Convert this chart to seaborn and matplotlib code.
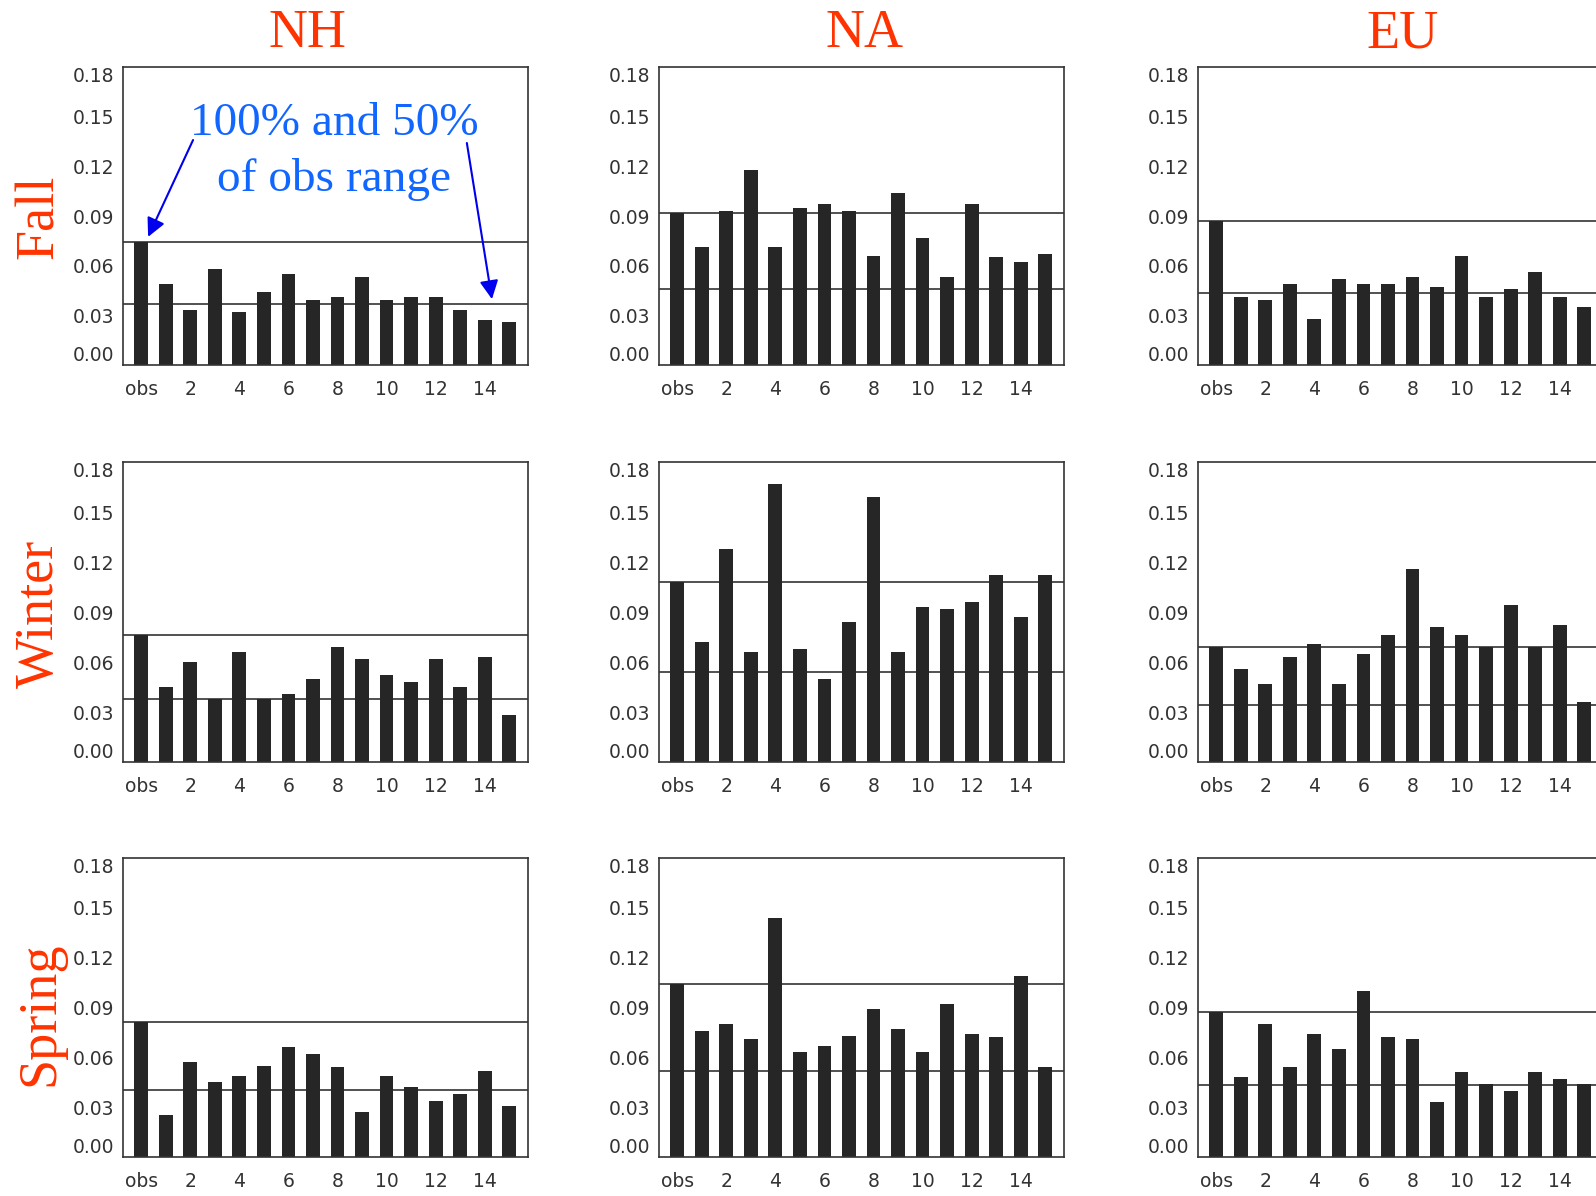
import pandas as pd
import seaborn as sns
import matplotlib.pyplot as plt

# bar labels: observations + 15 models
models = ['obs'] + [str(i) for i in range(1, 16)]
tick_pos = [0, 2, 4, 6, 8, 10, 12, 14]
tick_labels = ['obs', '2', '4', '6', '8', '10', '12', '14']
y_ticks = [0.00, 0.03, 0.06, 0.09, 0.12, 0.15, 0.18]

regions = ['NH', 'NA', 'EU']
seasons = ['Fall', 'Winter', 'Spring']

nh_fall = [0.074, 0.049, 0.033, 0.058, 0.032, 0.044, 0.055, 0.039,
           0.041, 0.053, 0.039, 0.041, 0.041, 0.033, 0.027, 0.026]
na_fall = [0.092, 0.071, 0.093, 0.118, 0.071, 0.095, 0.097, 0.093,
           0.066, 0.104, 0.077, 0.053, 0.097, 0.065, 0.062, 0.067]
eu_fall = [0.087, 0.041, 0.039, 0.049, 0.028, 0.052, 0.049, 0.049,
           0.053, 0.047, 0.066, 0.041, 0.046, 0.056, 0.041, 0.035]

nh_winter = [0.076, 0.045, 0.060, 0.038, 0.066, 0.038, 0.041, 0.050,
             0.069, 0.062, 0.052, 0.048, 0.062, 0.045, 0.063, 0.028]
na_winter = [0.108, 0.072, 0.128, 0.066, 0.167, 0.068, 0.050, 0.084,
             0.159, 0.066, 0.093, 0.092, 0.096, 0.112, 0.087, 0.112]
eu_winter = [0.069, 0.056, 0.047, 0.063, 0.071, 0.047, 0.065, 0.076,
             0.116, 0.081, 0.076, 0.069, 0.094, 0.069, 0.082, 0.036]

nh_spring = [0.081, 0.025, 0.057, 0.045, 0.049, 0.055, 0.066, 0.062,
             0.054, 0.027, 0.049, 0.042, 0.034, 0.038, 0.052, 0.031]
na_spring = [0.104, 0.076, 0.080, 0.071, 0.144, 0.063, 0.067, 0.073,
             0.089, 0.077, 0.063, 0.092, 0.074, 0.072, 0.109, 0.054]
eu_spring = [0.087, 0.048, 0.080, 0.054, 0.074, 0.065, 0.100, 0.072,
             0.071, 0.033, 0.051, 0.044, 0.040, 0.051, 0.047, 0.044]

panels = {
    ('Fall', 'NH'): nh_fall, ('Fall', 'NA'): na_fall, ('Fall', 'EU'): eu_fall,
    ('Winter', 'NH'): nh_winter, ('Winter', 'NA'): na_winter, ('Winter', 'EU'): eu_winter,
    ('Spring', 'NH'): nh_spring, ('Spring', 'NA'): na_spring, ('Spring', 'EU'): eu_spring,
}

W, H = 1596, 1196
col_left = [123, 659, 1198]          # pixel positions of the panels
row_span = [(67, 365), (462, 762), (858, 1157)]
panel_w = 405

red = '#FF3300'
bar_color = '#262626'
line_color = '#333333'

sns.set_style('white')
plt.rcParams['font.family'] = ['DejaVu Sans']

fig = plt.figure(figsize=(W / 100, H / 100), dpi=100, facecolor='white')

axes = {}
for r, season in enumerate(seasons):
    top, bot = row_span[r]
    for c, region in enumerate(regions):
        ax = fig.add_axes([col_left[c] / W, 1 - bot / H, panel_w / W, (bot - top) / H])
        vals = panels[(season, region)]
        df = pd.DataFrame({'model': models, 'value': vals})
        sns.barplot(data=df, x='model', y='value', ax=ax, color=bar_color,
                    saturation=1, width=0.56, edgecolor='none')
        obs = vals[0]
        ax.axhline(obs, color=line_color, lw=1.2, zorder=0.5)
        ax.axhline(obs / 2, color=line_color, lw=1.2, zorder=0.5)

        ax.set_xlim(-0.74, 15.76)
        ax.set_ylim(0, 0.18)
        ax.set_xticks(tick_pos)
        ax.set_xticklabels(tick_labels)
        ax.set_yticks(y_ticks)
        ax.set_yticklabels([f'{t:.2f}' for t in y_ticks])
        ax.tick_params(axis='both', length=0, labelsize=13.5, labelcolor='#333333')
        ax.tick_params(axis='x', pad=11)
        ax.tick_params(axis='y', pad=6)
        labs = ax.get_yticklabels()
        labs[0].set_va('bottom')
        labs[-1].set_va('top')
        ax.set_xlabel('')
        ax.set_ylabel('')
        for sp in ax.spines.values():
            sp.set_visible(True)
            sp.set_color(line_color)
            sp.set_linewidth(1.2)
        axes[(season, region)] = ax

# column and row titles
title_x = [307, 865, 1403]
for c, region in enumerate(regions):
    fig.text(title_x[c] / W, 1 - 34 / H, region, color=red, fontsize=39,
             family='Liberation Serif', ha='center', va='center')

row_y = [217, 614, 1014]
for r, season in enumerate(seasons):
    fig.text(40 / W, 1 - row_y[r] / H, season, color=red, fontsize=39,
             family='Liberation Serif', rotation=90, ha='center', va='center')

# annotation on the first panel
ax = axes[('Fall', 'NH')]
ax.text(0.521, 0.715, '100% and 50%\nof obs range', transform=ax.transAxes,
        color='#1166FF', fontsize=34, family='Liberation Serif',
        ha='center', va='center', linespacing=1.38)
arrow = dict(arrowstyle='-|>', color='#0000EE', lw=1.5, mutation_scale=28,
             shrinkA=0, shrinkB=0)
ax.annotate('', xy=(0.062, 0.43), xytext=(0.173, 0.755),
            xycoords='axes fraction', textcoords='axes fraction', arrowprops=arrow)
ax.annotate('', xy=(0.911, 0.221), xytext=(0.849, 0.745),
            xycoords='axes fraction', textcoords='axes fraction', arrowprops=arrow)

plt.savefig('out.png', dpi=100, facecolor='white')
plt.close()
